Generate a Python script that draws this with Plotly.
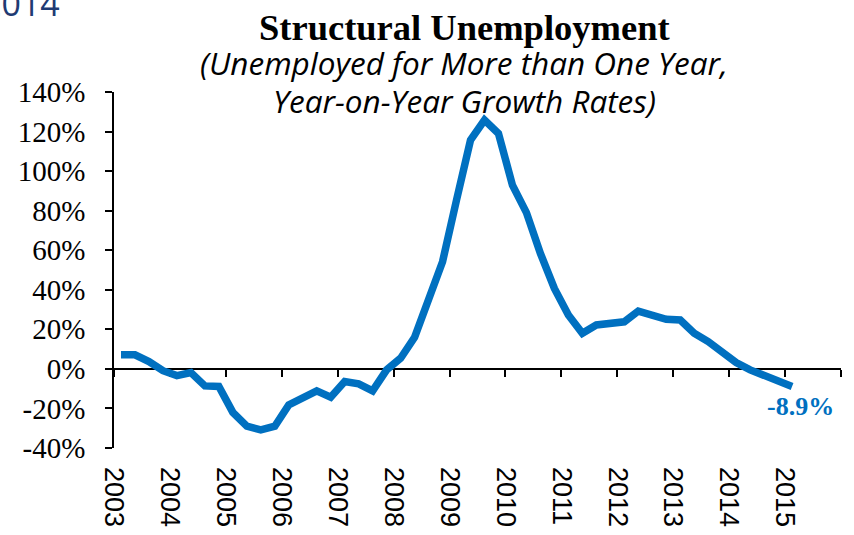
import plotly.graph_objects as go

# Quarterly year-on-year growth of long-term unemployed (%), 2003Q1 .. 2015Q1
years = list(range(2003, 2016))
growth = [7.1, 7.1, 3.7, -0.9,
          -3.4, -1.9, -8.6, -8.9,
          -22.0, -29.0, -30.8, -29.0,
          -18.2, -14.8, -11.1, -14.3,
          -6.4, -7.6, -11.1, -0.5,
          5.4, 16.0, 35.5, 54.2,
          85.4, 115.7, 125.8, 119.0,
          92.9, 79.0, 58.4, 40.7,
          27.3, 18.0, 22.2, 22.7,
          23.8, 29.2, 27.0, 25.1,
          24.7, 18.0, 13.8, 8.7,
          3.2, -0.5, -3.0, -6.4,
          -8.9]
y_ticks = [-40, -20, 0, 20, 40, 60, 80, 100, 120, 140]
y_range = [-40, 140]
x_range = [2003, 2016]

# each quarter is plotted at its mid-point on a continuous time axis
t = [y + (q + 0.5) / 4 for y in years for q in range(4)][:len(growth)]

BLUE = "#0070C0"

fig = go.Figure()
# empty trace so the zero-crossing axis (x2) gets drawn
fig.add_trace(go.Scatter(
    x=x_range, y=[None, None], xaxis="x2", yaxis="y",
    mode="lines", hoverinfo="skip", showlegend=False,
))
fig.add_trace(go.Scatter(
    x=t, y=growth, mode="lines",
    line=dict(color=BLUE, width=7.5),
    hoverinfo="skip", showlegend=False,
))

fig.add_annotation(
    x=t[-1], y=growth[-1], xref="x", yref="y",
    text=f"<b>{growth[-1]:.1f}%</b>", showarrow=False,
    font=dict(family="Liberation Serif", size=26, color=BLUE),
    xshift=8, yshift=-20,
)

zero_pos = (0 - y_range[0]) / (y_range[1] - y_range[0])

fig.update_layout(
    width=854, height=535,
    margin=dict(l=114, r=13, t=92, b=87, autoexpand=False),
    paper_bgcolor="white", plot_bgcolor="white",
    xaxis=dict(
        range=x_range, tickvals=years, ticktext=[str(y) for y in years],
        tickangle=90, ticks="", showline=False, showgrid=False, zeroline=False,
        tickfont=dict(family="Liberation Sans", size=27, color="black"),
        ticklabelstandoff=18, automargin=False,
    ),
    xaxis2=dict(
        range=x_range, overlaying="x", anchor="free", position=zero_pos,
        tickvals=years + [x_range[1]], showticklabels=False,
        ticks="outside", ticklen=7, tickwidth=1.5, tickcolor="black",
        showline=True, linecolor="black", linewidth=1.5,
        showgrid=False, zeroline=False, layer="below traces", automargin=False,
    ),
    yaxis=dict(
        range=y_range, tickvals=y_ticks, ticktext=[f"{v}%" for v in y_ticks],
        ticks="outside", ticklen=7, tickwidth=1.5, tickcolor="black",
        showline=True, linecolor="black", linewidth=1.5,
        showgrid=False, zeroline=False, automargin=False,
        tickfont=dict(family="Liberation Serif", size=29, color="black"),
        ticklabelstandoff=14,
    ),
)

fig.add_annotation(
    xref="paper", yref="paper", x=0.482, y=1.182, xanchor="center", yanchor="middle",
    text="<b>Structural Unemployment</b>", showarrow=False,
    font=dict(family="Liberation Serif", size=36.5, color="black"),
)
subtitle_lines = ["(Unemployed for More than One Year,", "Year-on-Year Growth Rates)"]
for line, ypos in zip(subtitle_lines, [1.084, 0.977]):
    fig.add_annotation(
        xref="paper", yref="paper", x=0.482, y=ypos, xanchor="center", yanchor="middle",
        text=f"<i>{line}</i>", showarrow=False,
        font=dict(family="Open Sans", size=31.5, color="black"),
    )
fig.add_annotation(
    xref="paper", yref="paper", x=-0.072, y=1.25, xanchor="right", yanchor="middle",
    text="2014", showarrow=False,
    font=dict(family="Open Sans", size=34, color="#1F3B73"),
)

fig.write_html("out.html")
